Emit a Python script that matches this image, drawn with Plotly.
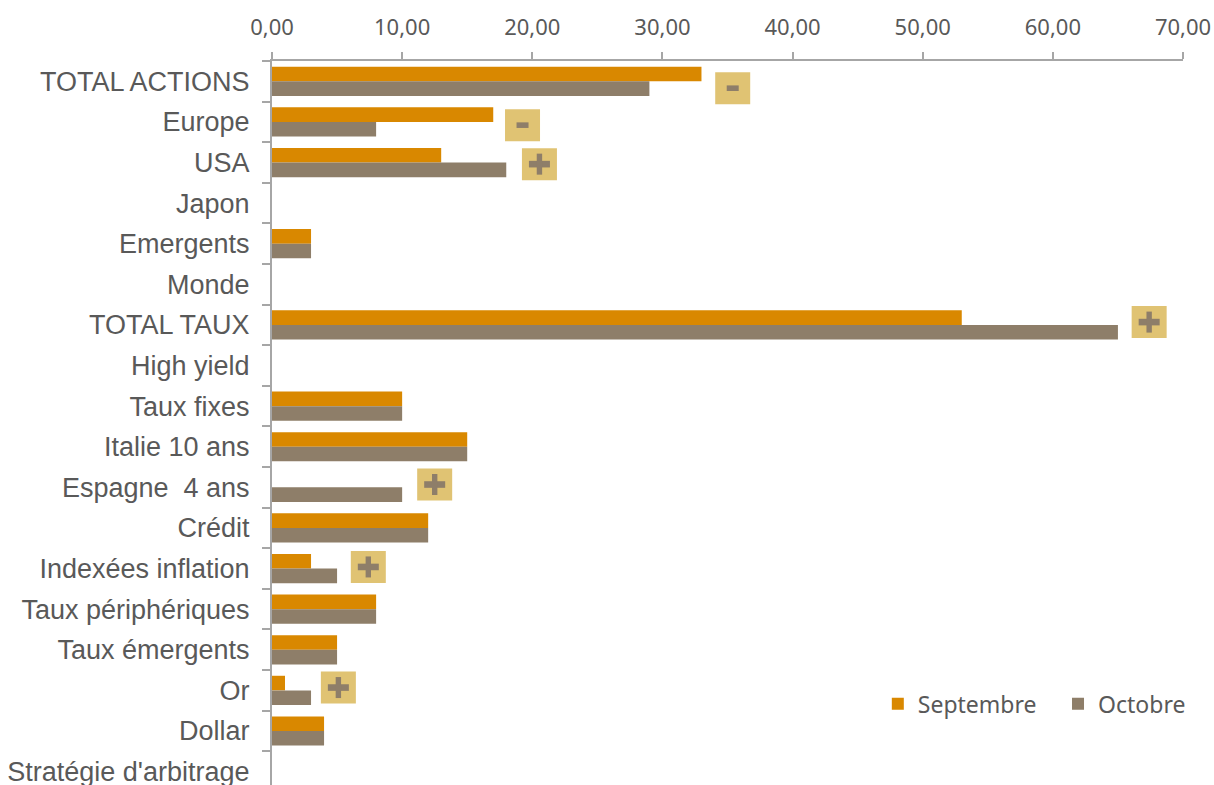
import plotly.graph_objects as go

categories = ["TOTAL ACTIONS", "Europe", "USA", "Japon", "Emergents", "Monde",
              "TOTAL TAUX", "High yield", "Taux fixes", "Italie 10 ans",
              "Espagne  4 ans", "Crédit", "Indexées inflation",
              "Taux périphériques", "Taux émergents", "Or", "Dollar",
              "Stratégie d'arbitrage"]
septembre = [33, 17, 13, None, 3, None, 53, None, 10, 15, None, 12, 3, 8, 5, 1, 4, None]
octobre = [29, 8, 18, None, 3, None, 65, None, 10, 15, 10, 12, 5, 8, 5, 3, 4, None]

# change signals: sign, box centre (x value, y category position)
signal_signs = ["-", "-", "+", "+", "+", "+", "+"]
signal_x = [35.4, 19.25, 20.55, 67.4, 12.5, 7.4, 5.1]
signal_y = [0.17, 1.08, 2.04, 5.93, 9.93, 11.96, 14.93]

x_ticks = [0, 10, 20, 30, 40, 50, 60, 70]
x_tick_labels = ["0,00", "10,00", "20,00", "30,00", "40,00", "50,00", "60,00", "70,00"]

ORANGE = "#D98800"
TAUPE = "#8E7E69"
BOX = "#E0C373"
GREY_TXT = "#595959"
AXIS = "#A6A6A6"

fig = go.Figure()
fig.add_trace(go.Bar(name="Septembre", y=categories, x=septembre, orientation="h",
                     marker=dict(color=ORANGE, line=dict(width=0)), legend="legend"))
fig.add_trace(go.Bar(name="Octobre", y=categories, x=octobre, orientation="h",
                     marker=dict(color=TAUPE, line=dict(width=0)), legend="legend2"))

shapes = []
for s, xv, yv in zip(signal_signs, signal_x, signal_y):
    common = dict(type="rect", xref="x", yref="y", xsizemode="pixel", ysizemode="pixel",
                  xanchor=xv, yanchor=yv, line=dict(width=0), layer="above")
    shapes.append(dict(common, x0=-17.5, x1=17.5, y0=-16, y1=16, fillcolor=BOX))
    if s == "+":
        shapes.append(dict(common, x0=-10.5, x1=10.5, y0=-3.3, y1=3.3, fillcolor=TAUPE))
        shapes.append(dict(common, x0=-2.7, x1=2.7, y0=-10.5, y1=10.5, fillcolor=TAUPE))
    else:
        shapes.append(dict(common, x0=-6, x1=6, y0=-2.8, y1=2.8, fillcolor=TAUPE))

legend_style = dict(orientation="h", xanchor="left", y=0.112, yanchor="middle",
                    font=dict(family="Noto Sans", size=23, color=GREY_TXT),
                    itemwidth=30, bgcolor="rgba(0,0,0,0)")

fig.update_layout(
    width=1214, height=785,
    margin=dict(l=272, r=31, t=61, b=0),
    paper_bgcolor="white", plot_bgcolor="white",
    barmode="group", bargap=0.28, bargroupgap=0,
    showlegend=True,
    legend=dict(legend_style, x=0.665),
    legend2=dict(legend_style, x=0.8628),
    shapes=shapes,
    xaxis=dict(side="top", range=[0, 70], tickmode="array", tickvals=x_ticks,
               ticktext=x_tick_labels, showgrid=False, zeroline=False,
               showline=True, linecolor=AXIS, linewidth=2, automargin=False,
               ticks="outside", ticklen=7, tickcolor=AXIS, tickwidth=2,
               ticklabelstandoff=8,
               tickfont=dict(family="Noto Sans", size=22, color=GREY_TXT)),
    yaxis=dict(type="category", range=[17.33, -0.5], showgrid=False, zeroline=False,
               showline=True, linecolor=AXIS, linewidth=2, automargin=False,
               ticks="outside", ticklen=8, tickcolor=AXIS, tickwidth=2,
               tickson="boundaries", ticklabelstandoff=15,
               tickfont=dict(family="Liberation Sans", size=27, color=GREY_TXT)),
)

# remove the default 8px page margin so the figure fills the window exactly
fig.write_html("out.html", config={"displayModeBar": False},
               post_script="document.body.style.margin='0';document.body.style.overflow='hidden';")
